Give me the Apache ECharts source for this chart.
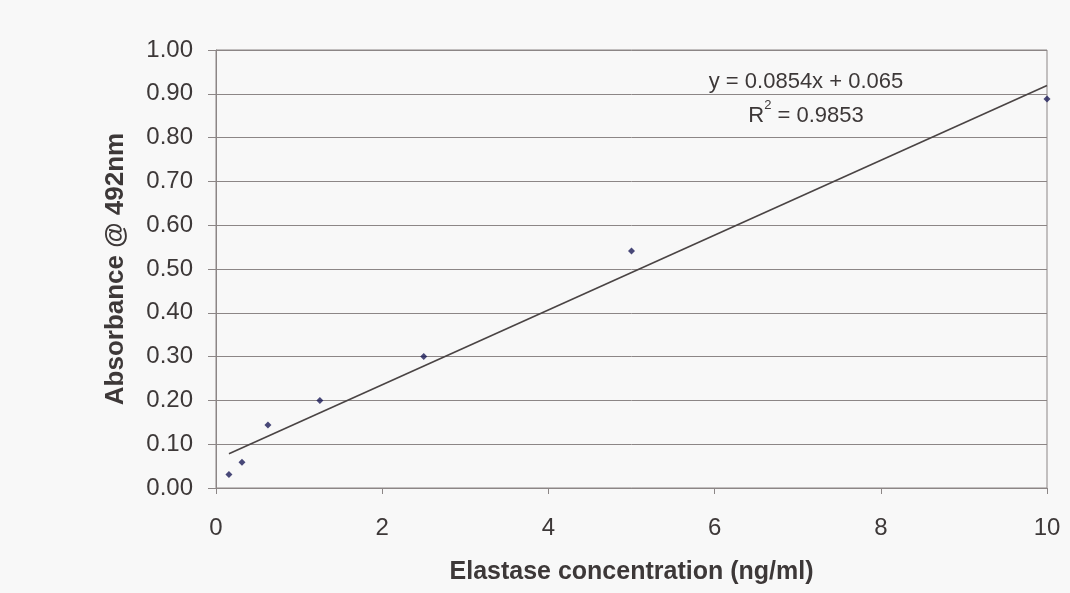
<!DOCTYPE html>
<html>
<head>
<meta charset="utf-8">
<script src="https://cdn.jsdelivr.net/npm/echarts@6/dist/echarts.min.js"></script>
<style>
  html, body { margin: 0; padding: 0; background: #f8f8f8; }
  #chart { width: 1070px; height: 593px; }
</style>
</head>
<body>
<div id="chart"></div>
<script>
// Elastase standard curve: concentration (ng/ml) vs absorbance at 492 nm
const concentration = [0.156, 0.3125, 0.625, 1.25, 2.5, 5, 10];
const absorbance    = [0.031, 0.059, 0.144, 0.200, 0.300, 0.541, 0.888];

// Linear fit reported on the chart
const fitSlope = 0.0854;
const fitIntercept = 0.065;
const fitR2 = 0.9853;

const xTicks = [0, 2, 4, 6, 8, 10];
const yTicks = [0, 0.1, 0.2, 0.3, 0.4, 0.5, 0.6, 0.7, 0.8, 0.9, 1.0];

const points = concentration.map((c, i) => [c, absorbance[i]]);
const xMin = Math.min(...concentration), xMax = Math.max(...concentration);
const fitLine = [xMin, xMax].map(x => [x, fitSlope * x + fitIntercept]);

const textColor = '#3d3838';
const gridColor = '#8c8686';
const font = 'Liberation Sans, Arial, sans-serif';

const chart = echarts.init(document.getElementById('chart'));
chart.setOption({
  backgroundColor: '#f8f8f8',
  animation: false,
  grid: {
    left: 216, right: 23, top: 50, bottom: 105,
    show: true, borderColor: gridColor, borderWidth: 1, backgroundColor: 'transparent'
  },
  title: {
    text: 'y = ' + fitSlope + 'x + ' + fitIntercept + '\n{r|R}{sup|2}{r| = ' + fitR2 + '}',
    left: 801, top: 60, textAlign: 'center',
    textStyle: {
      fontFamily: font, fontSize: 22, fontWeight: 'normal', color: textColor,
      lineHeight: 34, align: 'center',
      rich: {
        r: { fontFamily: font, fontSize: 22, color: textColor },
        sup: { fontFamily: font, fontSize: 13, color: textColor, verticalAlign: 'top', padding: [0, 0, 12, 0] }
      }
    }
  },
  xAxis: {
    type: 'value', min: 0, max: 10, interval: 2,
    name: 'Elastase concentration (ng/ml)',
    nameLocation: 'middle', nameGap: 72,
    nameTextStyle: { fontFamily: font, fontSize: 25, fontWeight: 'bold', color: textColor },
    axisLine: { show: true, lineStyle: { color: gridColor, width: 1 } },
    axisTick: { show: true, length: 6, inside: false, lineStyle: { color: gridColor } },
    axisLabel: {
      fontFamily: font, fontSize: 24, color: textColor, margin: 28,
      formatter: v => xTicks.includes(v) ? String(v) : ''
    },
    splitLine: { show: false }
  },
  yAxis: {
    type: 'value', min: 0, max: 1, interval: 0.1,
    name: 'Absorbance @ 492nm',
    nameLocation: 'middle', nameGap: 87, nameRotate: 90,
    nameTextStyle: { fontFamily: font, fontSize: 26, fontWeight: 'bold', color: textColor },
    axisLine: { show: true, lineStyle: { color: gridColor, width: 1 } },
    axisTick: { show: true, length: 8, lineStyle: { color: gridColor } },
    axisLabel: {
      fontFamily: font, fontSize: 24, color: textColor, margin: 23,
      formatter: v => yTicks.some(t => Math.abs(t - v) < 1e-9) ? v.toFixed(2) : ''
    },
    splitLine: { show: true, lineStyle: { color: gridColor, width: 1 } }
  },
  series: [
    {
      name: 'Linear fit', type: 'line', data: fitLine,
      symbol: 'none', silent: true,
      lineStyle: { color: '#4a4444', width: 1.6 }, z: 2
    },
    {
      name: 'Standards', type: 'scatter', data: points,
      symbol: 'diamond', symbolSize: 7,
      itemStyle: { color: '#1c1c58' }, z: 3
    }
  ]
});
</script>
</body>
</html>
